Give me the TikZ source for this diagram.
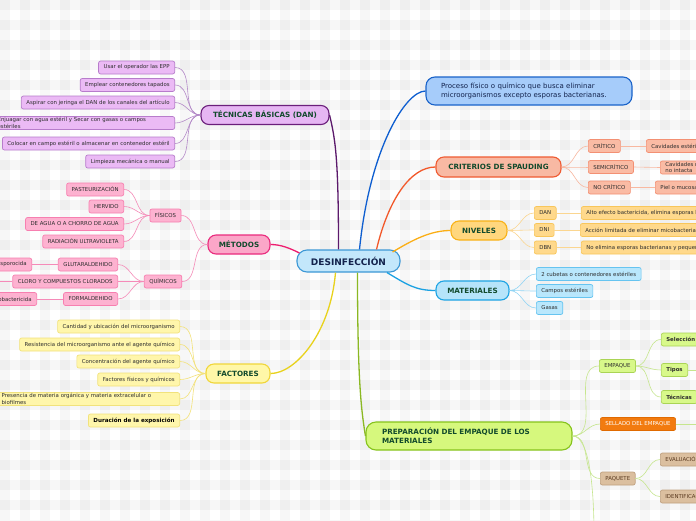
\documentclass[tikz,border=0pt]{standalone}
\usepackage{fontspec}
\setmainfont{DejaVu Sans}
\definecolor{txt}{HTML}{2E2E2E}
\definecolor{dgreen}{HTML}{124A2C}
\definecolor{navy}{HTML}{13234D}
\definecolor{cfill}{HTML}{C3E7FB}\definecolor{cdraw}{HTML}{3D98D6}
\definecolor{tfill}{HTML}{E6B6F3}\definecolor{tdraw}{HTML}{6B1F7B}
\definecolor{tcf}{HTML}{EBBAF5}\definecolor{tcd}{HTML}{B77CCB}
\definecolor{tline}{HTML}{5C1A6C}\definecolor{tcl}{HTML}{B48AC8}
\definecolor{mfill}{HTML}{FBA6C8}\definecolor{mdraw}{HTML}{EA2B7D}
\definecolor{mcf}{HTML}{FDB2D0}\definecolor{mcd}{HTML}{F77FB0}
\definecolor{mline}{HTML}{EE1C6E}\definecolor{mcl}{HTML}{F58AB8}
\definecolor{ffill}{HTML}{FFF7A8}\definecolor{fdraw}{HTML}{F0D63A}
\definecolor{fcf}{HTML}{FFF6AB}\definecolor{fcd}{HTML}{F1E27C}
\definecolor{fline}{HTML}{E8D21C}\definecolor{fcl}{HTML}{F3E27A}
\definecolor{dfill}{HTML}{A6CCFA}\definecolor{ddraw}{HTML}{1A63C9}\definecolor{dline}{HTML}{0E5ED0}
\definecolor{sfill}{HTML}{F8B9A3}\definecolor{sdraw}{HTML}{EF5B32}
\definecolor{scf}{HTML}{FABBA4}\definecolor{scd}{HTML}{F39073}
\definecolor{sline}{HTML}{F2582A}\definecolor{scl}{HTML}{F8B8A0}
\definecolor{nfill}{HTML}{FFD77E}\definecolor{ndraw}{HTML}{F8B218}
\definecolor{ncf}{HTML}{FFD98C}\definecolor{ncd}{HTML}{F8C65A}
\definecolor{nline}{HTML}{FBAE14}\definecolor{ncl}{HTML}{FBD690}
\definecolor{afill}{HTML}{B6E4FA}\definecolor{adraw}{HTML}{1EA4E4}
\definecolor{acf}{HTML}{B9E7FC}\definecolor{acd}{HTML}{66C4F0}
\definecolor{aline}{HTML}{1BA1E2}\definecolor{acl}{HTML}{90D4F4}
\definecolor{pfill}{HTML}{D6F87D}\definecolor{pdraw}{HTML}{86C31C}
\definecolor{pcf}{HTML}{D8F88A}\definecolor{pcd}{HTML}{AAD455}
\definecolor{pline}{HTML}{8BB823}\definecolor{pcl}{HTML}{C6E68E}
\definecolor{ofill}{HTML}{F27B0F}\definecolor{odraw}{HTML}{E06A00}
\definecolor{kfill}{HTML}{DBBF9F}\definecolor{kdraw}{HTML}{BFA07F}\definecolor{ktxt}{HTML}{5A3A20}
\begin{document}
\begin{tikzpicture}[x=1pt,y=-1pt,
  sm/.style={draw, rounded corners=2pt, line width=0.7pt, font=\fontsize{5.4}{6.6}\selectfont, inner xsep=5pt, inner ysep=1pt, minimum height=13pt, text=txt},
  big/.style={draw, rounded corners=8pt, line width=1.1pt, font=\fontsize{7.2}{8.8}\selectfont\bfseries, text=dgreen, minimum height=19pt, inner xsep=0pt, inner ysep=0pt},
  main/.style={line width=1.3pt},
  thin/.style={line width=0.6pt}]
\useasboundingbox (0,0) rectangle (696,520);
\fill[white] (0,0) rectangle (696,520);
\foreach \i in {0,20,...,680} \fill[black, opacity=0.03] (\i,0) rectangle ++(10,520);
\foreach \j in {0,20,...,520} \fill[black, opacity=0.03] (0,\j) rectangle ++(696,10);
\clip (0,0) rectangle (696,520);

% centre
\node[big, fill=cfill, draw=cdraw, minimum width=103pt, minimum height=22pt, rounded corners=10pt, font=\fontsize{9}{10}\selectfont\bfseries, text=navy] (c) at (348.5,261) {DESINFECCIÓN};

% level 1
\node[big, fill=tfill, draw=tdraw, minimum width=128pt] (tec) at (265,115) {TÉCNICAS BÁSICAS (DAN)};
\node[big, fill=mfill, draw=mdraw, minimum width=62pt] (met) at (239,244.5) {MÉTODOS};
\node[big, fill=ffill, draw=fdraw, minimum width=64pt] (fac) at (238,373.5) {FACTORES};
\node[draw=ddraw, fill=dfill, rounded corners=9pt, line width=1.1pt, minimum height=28pt, text width=176pt, inner xsep=15pt, inner ysep=0pt, align=left, font=\fontsize{7}{8.6}\selectfont, text=navy] (def) at (529,91) {Proceso físico o químico que busca eliminar\\microorganismos excepto esporas bacterianas.};
\node[big, fill=sfill, draw=sdraw, minimum width=125pt, minimum height=20pt] (cri) at (498.5,167) {CRITERIOS DE SPAUDING};
\node[big, fill=nfill, draw=ndraw, minimum width=56pt] (niv) at (479,230.5) {NIVELES};
\node[big, fill=afill, draw=adraw, minimum width=73pt] (mat) at (472.5,290.5) {MATERIALES};
\node[big, fill=pfill, draw=pdraw, minimum height=28pt, text width=174pt, inner xsep=16pt, align=left, rounded corners=10pt] (pre) at (469,436) {PREPARACIÓN DEL EMPAQUE DE LOS\\MATERIALES};

% main connectors
\draw[main, tline] ([xshift=-10pt]c.north) .. controls +(0,-90) and +(6,25) .. (tec.east);
\draw[main, mline] ([xshift=3pt,yshift=8pt]c.west) .. controls +(-10,-5) and +(10,0) .. (met.east);
\draw[main, fline] ([xshift=-13pt]c.south) .. controls +(-5,60) and +(25,0) .. (fac.east);
\draw[main, dline] ([xshift=11pt]c.north) .. controls +(10,-100) and +(-20,0) .. (def.west);
\draw[main, sline] ([xshift=28pt]c.north) .. controls +(12,-50) and +(-25,0) .. (cri.west);
\draw[main, nline] ([xshift=-8pt,yshift=9pt]c.east) .. controls +(20,-12) and +(-20,0) .. (niv.west);
\draw[main, aline] ([xshift=38.5pt]c.south) .. controls +(20,12) and +(-20,0) .. (mat.west);
\draw[main, pline] ([xshift=9pt]c.south) .. controls +(0,110) and +(-4,-25) .. (pre.west);

% TECNICAS children
\begin{scope}[every node/.append style={sm, fill=tcf, draw=tcd, anchor=east}]
\node (t1) at (175,67.5) {Usar el operador las EPP};
\node (t2) at (175,85) {Emplear contenedores tapados};
\node (t3) at (175,102.5) {Aspirar con jeringa el DAN de los canales del artículo};
\node[text width=172pt, align=left] (t4) at (175,123) {Enjuagar con agua estéril y Secar con gasas o campos\\estériles};
\node (t5) at (175,143.5) {Colocar en campo estéril o almacenar en contenedor estéril};
\node (t6) at (175,161.5) {Limpieza mecánica o manual};
\end{scope}
\foreach \n in {t1,t2,t3,t4,t5,t6} \draw[thin, tcl] (\n.east) to[out=0,in=180] (tec.west);

% METODOS children
\begin{scope}[every node/.append style={sm, fill=mcf, draw=mcd}]
\node (fis) at (165.5,215.5) {FÍSICOS};
\node (qui) at (163,281.5) {QUÍMICOS};
\node[anchor=east] (m1) at (124,189.5) {PASTEURIZACIÓN};
\node[anchor=east] (m2) at (124,206.5) {HERVIDO};
\node[anchor=east] (m3) at (124,224) {DE AGUA O A CHORRO DE AGUA};
\node[anchor=east] (m4) at (124,241.5) {RADIACIÓN ULTRAVIOLETA};
\node[anchor=east] (q1) at (118,264.5) {GLUTARALDEHIDO};
\node[anchor=east] (q2) at (118,281.5) {CLORO Y COMPUESTOS CLORADOS};
\node[anchor=east] (q3) at (118,299) {FORMALDEHIDO};
\node[anchor=east] (e1) at (32,264.5) {Esporocida};
\node[anchor=east] (e3) at (37,299) {Micobactericida};
\end{scope}
\coordinate (e2) at (-20,281.5);
\draw[thin, mcl] (fis.east) to[out=0,in=180] (met.west);
\draw[thin, mcl] (qui.east) to[out=0,in=180] (met.west);
\foreach \n in {m1,m2,m3,m4} \draw[thin, mcl] (\n.east) to[out=0,in=180] (fis.west);
\foreach \n in {q1,q2,q3} \draw[thin, mcl] (\n.east) to[out=0,in=180] (qui.west);
\draw[thin, mcl] (q1.west) -- (e1.east);
\draw[thin, mcl] (q2.west) -- (e2);
\draw[thin, mcl] (q3.west) -- (e3.east);

% FACTORES children
\begin{scope}[every node/.append style={sm, fill=fcf, draw=fcd, anchor=east}]
\node (f1) at (180,326.5) {Cantidad y ubicación del microorganismo};
\node (f2) at (180,344.5) {Resistencia del microorganismo ante el agente químico};
\node (f3) at (180,361.5) {Concentración del agente químico};
\node (f4) at (180,379.5) {Factores físicos y químicos};
\node[text width=173pt, align=left] (f5) at (180,399) {Presencia de materia orgánica y materia extracelular o\\biofilmes};
\node[font=\fontsize{5.6}{6.6}\selectfont\bfseries, text=black] (f6) at (180,420.5) {Duración de la exposición};
\end{scope}
\foreach \n in {f1,f2,f3,f4,f5,f6} \draw[thin, fcl] (\n.east) to[out=0,in=180] (fac.west);

% CRITERIOS children
\begin{scope}[every node/.append style={sm, fill=scf, draw=scd, anchor=west}]
\node (s1) at (588,146) {CRÍTICO};
\node (s2) at (588,167) {SEMICRÍTICO};
\node (s3) at (588,187.5) {NO CRÍTICO};
\node (s1a) at (646,146) {Cavidades estériles o sistema vascular};
\node[align=left] (s2a) at (660,167.5) {Cavidades mucosas o piel\\no intacta};
\node (s3a) at (655,187.5) {Piel o mucosas intactas};
\end{scope}
\foreach \n in {s1,s2,s3} \draw[thin, scl] (cri.east) to[out=0,in=180] (\n.west);
\draw[thin, scl] (s1.east) -- (s1a.west);
\draw[thin, scl] (s2.east) -- (s2a.west);
\draw[thin, scl] (s3.east) -- (s3a.west);

% NIVELES children
\begin{scope}[every node/.append style={sm, fill=ncf, draw=ncd, anchor=west}]
\node (n1) at (534,213) {DAN};
\node (n2) at (534,230) {DNI};
\node (n3) at (534,247.5) {DBN};
\node (n1a) at (581,213) {Alto efecto bactericida, elimina esporas bacterianas};
\node (n2a) at (580,230) {Acción limitada de eliminar micobacterias};
\node (n3a) at (581,247.5) {No elimina esporas bacterianas y pequeños virus};
\end{scope}
\foreach \n in {n1,n2,n3} \draw[thin, ncl] (niv.east) to[out=0,in=180] (\n.west);
\draw[thin, ncl] (n1.east) -- (n1a.west);
\draw[thin, ncl] (n2.east) -- (n2a.west);
\draw[thin, ncl] (n3.east) -- (n3a.west);

% MATERIALES children
\begin{scope}[every node/.append style={sm, fill=acf, draw=acd, anchor=west}]
\node (a1) at (536,274) {2 cubetas o contenedores estériles};
\node (a2) at (536,291) {Campos estériles};
\node (a3) at (536,308) {Gasas};
\end{scope}
\foreach \n in {a1,a2,a3} \draw[thin, acl] (mat.east) to[out=0,in=180] (\n.west);

% PREPARACION children
\begin{scope}[every node/.append style={sm, anchor=west}]
\node[fill=pcf, draw=pcd] (emp) at (599,366) {EMPAQUE};
\node[fill=ofill, draw=odraw, text=white] (sel) at (600,424) {SELLADO DEL EMPAQUE};
\node[fill=kfill, draw=kdraw, text=ktxt] (paq) at (600,478.5) {PAQUETE};
\node[fill=pcf, draw=pcd, font=\fontsize{5.4}{6.6}\selectfont\bfseries] (e1n) at (661,339.5) {Selección};
\node[fill=pcf, draw=pcd, font=\fontsize{5.4}{6.6}\selectfont\bfseries] (e2n) at (661,370) {Tipos};
\node[fill=pcf, draw=pcd, font=\fontsize{5.4}{6.6}\selectfont\bfseries] (e3n) at (661,397) {Técnicas};
\node[fill=kfill, draw=kdraw, text=ktxt] (k1) at (660,459.5) {EVALUACIÓN};
\node[fill=kfill, draw=kdraw, text=ktxt] (k2) at (660,496.5) {IDENTIFICACIÓN};
\end{scope}
\coordinate (down) at (594,535);
\coordinate (tipR) at (710,370);
\coordinate (tecR) at (710,397);
\coordinate (selR) at (710,424);
\foreach \n in {emp,sel,paq} \draw[thin, pcl] (pre.east) to[out=0,in=180] (\n.west);
\draw[thin, pcl] (pre.east) .. controls +(18,0) and +(0,-40) .. (down);
\foreach \n in {e1n,e2n,e3n} \draw[thin, pcl] (emp.east) to[out=0,in=180] (\n.west);
\draw[thin, pcl] (e2n.east) -- (tipR);
\draw[thin, pcl] (e3n.east) -- (tecR);
\draw[thin, pcl] (sel.east) -- (selR);
\draw[thin, pcl] (paq.east) to[out=0,in=180] (k1.west);
\draw[thin, pcl] (paq.east) to[out=0,in=180] (k2.west);
\end{tikzpicture}
\end{document}
